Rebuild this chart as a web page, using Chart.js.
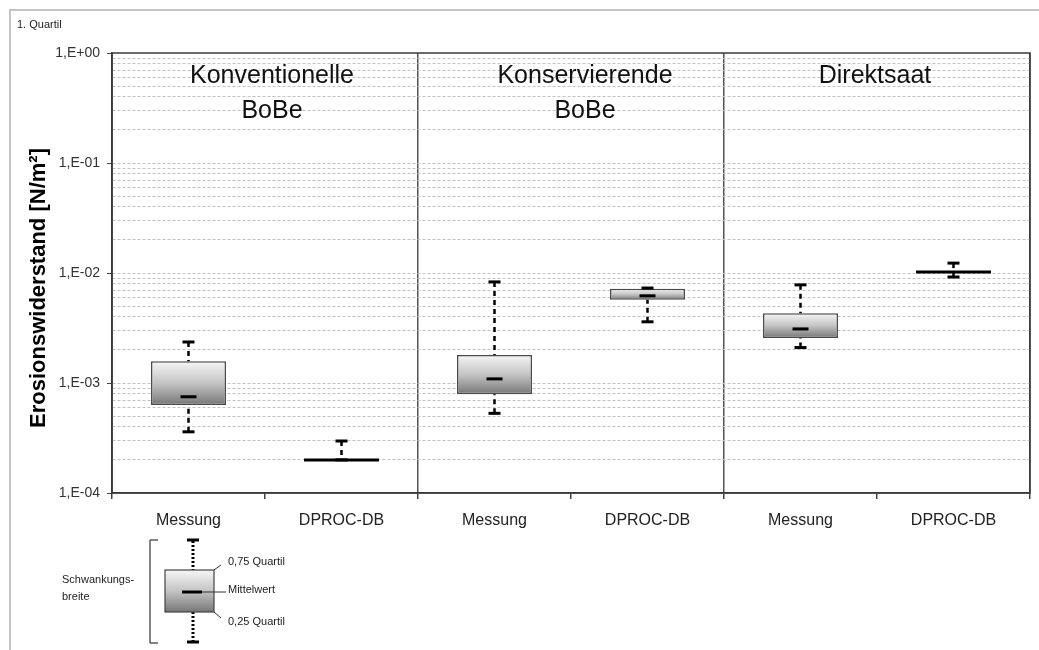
<!DOCTYPE html>
<html><head><meta charset="utf-8">
<script src="https://cdn.jsdelivr.net/npm/chart.js@4"></script>
<style>
html,body{margin:0;padding:0;background:#fff;}
#wrap{position:relative;width:1039px;height:650px;overflow:hidden;background:#fff;}
#frame{position:absolute;left:9px;top:9px;width:1100px;height:700px;border-left:2px solid #c4c4c4;border-top:2px solid #c4c4c4;}
canvas{position:absolute;left:0;top:0;}
</style></head><body>
<div id="wrap"><div id="frame"></div><canvas id="c" width="1039" height="650" style="width:1039px;height:650px"></canvas></div>
<script>
// ---- data ----
const categories = ['Messung', 'DPROC-DB', 'Messung', 'DPROC-DB', 'Messung', 'DPROC-DB'];
const groupTitles = [['Konventionelle', 'BoBe'], ['Konservierende', 'BoBe'], ['Direktsaat']];
const minValues  = [3.6e-4, 2.0e-4, 5.3e-4, 3.6e-3, 2.1e-3, 9.2e-3];
const q1Values   = [6.3e-4, 2.0e-4, 7.9e-4, 5.7e-3, 2.57e-3, 1.02e-2];
const meanValues = [7.5e-4, 2.0e-4, 1.09e-3, 6.2e-3, 3.1e-3, 1.02e-2];
const q3Values   = [1.58e-3, 2.0e-4, 1.8e-3, 7.2e-3, 4.3e-3, 1.02e-2];
const maxValues  = [2.36e-3, 2.97e-4, 8.3e-3, 7.3e-3, 7.8e-3, 1.23e-2];
const yTickValues = [1e-4, 1e-3, 1e-2, 1e-1, 1];
const yTickLabels = ['1,E-04', '1,E-03', '1,E-02', '1,E-01', '1,E+00'];
const yTitle = 'Erosionswiderstand [N/m²]';
const cornerLabel = '1. Quartil';
const legendLabels = ['0,75 Quartil', 'Mittelwert', '0,25 Quartil'];
const legendSide = ['Schwankungs-', 'breite'];

const FONT = '"Liberation Sans", Arial, sans-serif';
const isDecade = v => yTickValues.some(t => Math.abs(Math.log10(v) - Math.log10(t)) < 1e-6);

function boxGradient(ctx, top, bot) {
  const g = ctx.createLinearGradient(0, top, 0, bot);
  g.addColorStop(0, '#f6f6f6');
  g.addColorStop(0.5, '#c4c4c4');
  g.addColorStop(1, '#767676');
  return g;
}

const boxPlugin = {
  id: 'boxParts',
  afterDatasetsDraw(chart) {
    const {ctx, scales: {x, y}} = chart;
    const meta = chart.getDatasetMeta(0);
    const line = (x1, y1, x2, y2) => { ctx.beginPath(); ctx.moveTo(x1, y1); ctx.lineTo(x2, y2); ctx.stroke(); };
    ctx.save();
    ctx.strokeStyle = '#000';
    categories.forEach((c, i) => {
      const bar = meta.data[i];
      const cx = x.getPixelForValue(i);
      const half = bar.width / 2;
      const pMin = y.getPixelForValue(minValues[i]);
      const pQ1 = y.getPixelForValue(q1Values[i]);
      const pQ3 = y.getPixelForValue(q3Values[i]);
      const pMax = y.getPixelForValue(maxValues[i]);
      const pMean = y.getPixelForValue(meanValues[i]);
      ctx.lineWidth = 2.5;
      ctx.setLineDash([5, 4]);
      if (pQ3 - pMax > 2) line(cx, pMax, cx, pQ3);
      if (pMin - pQ1 > 2) line(cx, pMin, cx, pQ1);
      ctx.setLineDash([]);
      ctx.lineWidth = 3;
      line(cx - 6, pMax, cx + 6, pMax);
      line(cx - 6, pMin, cx + 6, pMin);
      if (Math.abs(pQ1 - pQ3) < 1) {
        line(cx - half, pQ1, cx + half, pQ1);
      } else {
        line(cx - 8, pMean, cx + 8, pMean);
      }
    });
    ctx.restore();
  },
  afterDraw(chart) {
    const {ctx, chartArea: a, scales: {x}} = chart;
    const line = (x1, y1, x2, y2) => { ctx.beginPath(); ctx.moveTo(x1, y1); ctx.lineTo(x2, y2); ctx.stroke(); };
    ctx.save();
    // plot frame
    ctx.strokeStyle = '#3a3a3a';
    ctx.lineWidth = 1.5;
    ctx.strokeRect(a.left, a.top, a.right - a.left, a.bottom - a.top);
    // group titles
    ctx.fillStyle = '#111';
    ctx.font = '25px ' + FONT;
    ctx.textAlign = 'center';
    ctx.textBaseline = 'middle';
    const offsets = [7, 14, -2];
    groupTitles.forEach((lines, g) => {
      const gx = (x.getPixelForValue(2 * g) + x.getPixelForValue(2 * g + 1)) / 2 + offsets[g];
      lines.forEach((t, k) => ctx.fillText(t, gx, a.top + 23 + k * 35));
    });
    // y title
    ctx.save();
    ctx.translate(39, 288);
    ctx.rotate(-Math.PI / 2);
    ctx.font = 'bold 22px ' + FONT;
    ctx.fillStyle = '#000';
    ctx.fillText(yTitle, 0, 0);
    ctx.restore();
    // corner label
    ctx.font = '11px ' + FONT;
    ctx.textAlign = 'left';
    ctx.fillStyle = '#222';
    ctx.fillText(cornerLabel, 17, 25);
    // legend schematic
    ctx.strokeStyle = '#333';
    ctx.lineWidth = 1.2;
    line(158, 540, 150, 540); line(150, 540, 150, 643); line(150, 643, 158, 643);
    ctx.strokeStyle = '#000';
    ctx.lineWidth = 3;
    ctx.setLineDash([2, 2]);
    line(193, 541, 193, 570); line(193, 612, 193, 642);
    ctx.setLineDash([]);
    line(187, 540, 199, 540); line(187, 642, 199, 642);
    ctx.fillStyle = boxGradient(ctx, 570, 612);
    ctx.fillRect(165, 570, 49, 42);
    ctx.strokeStyle = '#444';
    ctx.lineWidth = 1.2;
    ctx.strokeRect(165, 570, 49, 42);
    ctx.strokeStyle = '#000';
    ctx.lineWidth = 3;
    line(182, 592, 202, 592);
    ctx.lineWidth = 1;
    ctx.strokeStyle = '#333';
    line(214, 570, 221, 565);
    line(202, 592, 226, 592);
    line(214, 612, 221, 618);
    ctx.fillStyle = '#222';
    ctx.font = '11px ' + FONT;
    ctx.fillText(legendLabels[0], 228, 562);
    ctx.fillText(legendLabels[1], 228, 590);
    ctx.fillText(legendLabels[2], 228, 622);
    ctx.fillText(legendSide[0], 62, 580);
    ctx.fillText(legendSide[1], 62, 597);
    ctx.restore();
  }
};

new Chart(document.getElementById('c'), {
  type: 'bar',
  data: {
    labels: categories,
    datasets: [{
      data: categories.map((c, i) => [q1Values[i], q3Values[i]]),
      barPercentage: 0.49,
      categoryPercentage: 1.0,
      borderSkipped: false,
      borderColor: '#4a4a4a',
      borderWidth: c => (q1Values[c.dataIndex] === q3Values[c.dataIndex] ? 0 : 1.5),
      backgroundColor: c => {
        const chart = c.chart;
        const y = chart.scales.y;
        const i = c.dataIndex;
        if (!chart.chartArea || !y || i === undefined) return '#bbb';
        const top = y.getPixelForValue(q3Values[i]);
        const bot = y.getPixelForValue(q1Values[i]);
        if (bot - top < 1) return 'rgba(0,0,0,0)';
        return boxGradient(chart.ctx, top, bot);
      }
    }]
  },
  options: {
    responsive: false,
    animation: false,
    events: [],
    layout: {padding: {left: 0, top: 53, right: 9, bottom: 117}},
    plugins: {legend: {display: false}, tooltip: {enabled: false}},
    scales: {
      x: {
        afterFit: s => { s.height = 40; },
        grid: {
          offset: true,
          drawOnChartArea: true,
          color: c => (c.index === 1 || c.index === 3 || c.index === 5 ? 'rgba(0,0,0,0)' : '#555'),
          tickColor: '#444',
          tickLength: 6,
          lineWidth: 1.5
        },
        border: {color: '#3a3a3a', width: 1.5},
        ticks: {color: '#222', font: {family: FONT, size: 16}, padding: 12, maxRotation: 0, autoSkip: false}
      },
      y: {
        type: 'logarithmic',
        min: 1e-4,
        max: 1,
        afterFit: s => { s.width = 112; },
        afterBuildTicks: s => {
          const t = [];
          for (let e = -4; e <= 0; e++) {
            for (let m = 1; m <= 9; m++) {
              const v = Number((m * Math.pow(10, e)).toPrecision(3));
              if (v <= 1) t.push({value: v});
            }
          }
          s.ticks = t;
        },
        grid: {
          color: c => (c.tick && (c.tick.value === 1 || c.tick.value === 1e-4) ? 'rgba(0,0,0,0)' : '#c2c2c2'),
          lineWidth: 1,
          tickColor: c => (c.tick && isDecade(c.tick.value) ? '#444' : 'rgba(0,0,0,0)'),
          tickLength: 5
        },
        border: {color: '#3a3a3a', width: 1.5, dash: [3, 2]},
        ticks: {
          autoSkip: false,
          color: '#333',
          font: {family: FONT, size: 14},
          padding: 7,
          callback: v => {
            const k = yTickValues.findIndex(t => Math.abs(Math.log10(v) - Math.log10(t)) < 1e-6);
            return k >= 0 ? yTickLabels[k] : '';
          }
        }
      }
    }
  },
  plugins: [boxPlugin]
});
</script>
</body></html>
